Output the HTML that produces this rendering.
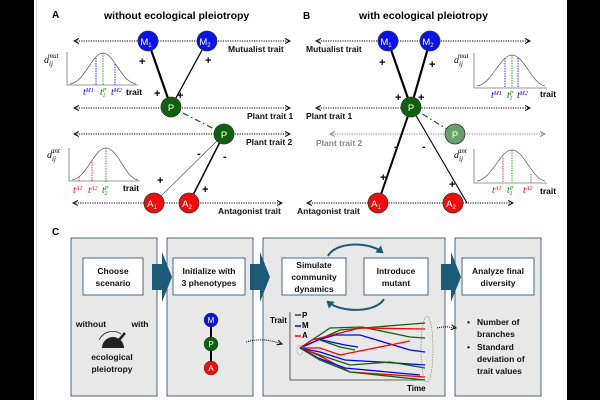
<!DOCTYPE html>
<html><head><style>
html,body{margin:0;padding:0;background:#000;}
svg{display:block;font-family:"Liberation Sans",sans-serif;}
</style></head><body>
<svg width="600" height="400" viewBox="0 0 600 400" xmlns="http://www.w3.org/2000/svg">
<defs>
<marker id="ar" markerWidth="6" markerHeight="6" refX="5" refY="3" orient="auto"><path d="M0,0.5 L5,3 L0,5.5" fill="none" stroke="#000" stroke-width="1"/></marker>
<marker id="al" markerWidth="6" markerHeight="6" refX="1" refY="3" orient="auto"><path d="M6,0.5 L1,3 L6,5.5" fill="none" stroke="#000" stroke-width="1"/></marker>
<marker id="arg" markerWidth="6" markerHeight="6" refX="5" refY="3" orient="auto"><path d="M0,0.5 L5,3 L0,5.5" fill="none" stroke="#888" stroke-width="1"/></marker>
<marker id="alg" markerWidth="6" markerHeight="6" refX="1" refY="3" orient="auto"><path d="M6,0.5 L1,3 L6,5.5" fill="none" stroke="#888" stroke-width="1"/></marker>
<marker id="cz" markerUnits="userSpaceOnUse" markerWidth="9" markerHeight="9" refX="5" refY="4.5" orient="auto"><path d="M0,0 L7,4.5 L0,9 Z" fill="#1d5a78"/></marker>
</defs>
<rect x="0" y="0" width="600" height="400" fill="#000"/>
<rect x="34" y="0" width="533" height="400" fill="#fff"/>
<line x1="36.5" y1="0" x2="36.5" y2="400" stroke="#ccc"/>
<g font-weight="bold" font-size="10">
<text x="52" y="18">A</text><text x="104" y="19" font-size="10.5">without ecological pleiotropy</text>
<text x="303" y="19">B</text><text x="359" y="19" font-size="10.5">with ecological pleiotropy</text>
<text x="52" y="235">C</text>
</g>
<g stroke="#000" stroke-width="1" stroke-dasharray="1.2,1.2" fill="none">
<line x1="74" y1="41" x2="290" y2="41" marker-start="url(#al)" marker-end="url(#ar)"/>
<line x1="74" y1="108" x2="290" y2="108" marker-start="url(#al)" marker-end="url(#ar)"/>
<line x1="74" y1="134" x2="290" y2="134" marker-start="url(#al)" marker-end="url(#ar)"/>
<line x1="73" y1="203" x2="282" y2="203" marker-start="url(#al)" marker-end="url(#ar)"/>
<line x1="316" y1="41" x2="530" y2="41" marker-start="url(#al)" marker-end="url(#ar)"/>
<line x1="316" y1="108" x2="530" y2="108" marker-start="url(#al)" marker-end="url(#ar)"/>
<line x1="307" y1="203" x2="513" y2="203" marker-start="url(#al)" marker-end="url(#ar)"/>
</g>
<line x1="330" y1="134" x2="545" y2="134" stroke="#888" stroke-dasharray="1.2,1.2" marker-start="url(#alg)" marker-end="url(#arg)"/>
<g font-size="8.5" font-weight="bold" fill="#111">
<text x="228" y="52">Mutualist trait</text>
<text x="247" y="119">Plant trait 1</text>
<text x="246" y="145">Plant trait 2</text>
<text x="218" y="214">Antagonist trait</text>
<text x="306" y="52">Mutualist trait</text>
<text x="306" y="119">Plant trait 1</text>
<text x="316" y="146" fill="#888">Plant trait 2</text>
<text x="297" y="214">Antagonist trait</text>
</g>
<line x1="148" y1="41" x2="171" y2="107" stroke="#000" stroke-width="2.2"/>
<line x1="207" y1="41" x2="171" y2="107" stroke="#000" stroke-width="1.3"/>
<line x1="171" y1="107" x2="224" y2="134" stroke="#1a6b1a" stroke-width="1.3" stroke-dasharray="6,3,1.5,3"/>
<line x1="224" y1="134" x2="154" y2="203" stroke="#555" stroke-width="0.7"/>
<line x1="224" y1="134" x2="189" y2="203" stroke="#000" stroke-width="1.5"/>
<line x1="388" y1="41" x2="411" y2="107" stroke="#000" stroke-width="2.2"/>
<line x1="430" y1="41" x2="411" y2="107" stroke="#000" stroke-width="2.2"/>
<line x1="411" y1="107" x2="455" y2="134" stroke="#1a6b1a" stroke-width="1.3" stroke-dasharray="6,3,1.5,3"/>
<line x1="411" y1="107" x2="378" y2="203" stroke="#000" stroke-width="2"/>
<line x1="411" y1="107" x2="467" y2="203" stroke="#000" stroke-width="1.1"/>
<g font-size="11" font-weight="bold">
<text x="139" y="65">+</text><text x="205" y="64">+</text><text x="154" y="97">+</text><text x="177" y="99">+</text>
<text x="197" y="157">-</text><text x="223" y="160">-</text><text x="157" y="184">+</text><text x="202" y="193">+</text>
<text x="379" y="66">+</text><text x="429" y="68">+</text><text x="395" y="101">+</text><text x="418" y="101">+</text>
<text x="394" y="150">-</text><text x="422" y="150">-</text><text x="380" y="181">+</text><text x="449" y="188">+</text>
</g>
<g stroke="#333" stroke-width="0.8" font-size="10" fill="#fff" text-anchor="middle">
<circle cx="148" cy="41" r="10" fill="#0a14e6"/><circle cx="207" cy="41" r="10" fill="#0a14e6"/>
<circle cx="171" cy="107" r="10" fill="#0e620e"/><circle cx="224" cy="134" r="10" fill="#0e620e"/>
<circle cx="154" cy="203" r="10" fill="#ee0c0c"/><circle cx="189" cy="203" r="10" fill="#ee0c0c"/>
<circle cx="388" cy="41" r="10" fill="#0a14e6"/><circle cx="430" cy="41" r="10" fill="#0a14e6"/>
<circle cx="411" cy="107" r="10" fill="#0e620e"/><circle cx="455" cy="134" r="10" fill="#6aa06a"/>
<circle cx="378" cy="203" r="10" fill="#ee0c0c"/><circle cx="453" cy="203" r="10" fill="#ee0c0c"/>
</g>
<g font-size="9.5" fill="#fff" text-anchor="middle">
<text x="146" y="45">M<tspan font-size="6" dy="2">1</tspan></text><text x="205" y="45">M<tspan font-size="6" dy="2">2</tspan></text>
<text x="171" y="111">P</text><text x="224" y="138">P</text>
<text x="152" y="207">A<tspan font-size="6" dy="2">1</tspan></text><text x="187" y="207">A<tspan font-size="6" dy="2">2</tspan></text>
<text x="386" y="45">M<tspan font-size="6" dy="2">1</tspan></text><text x="428" y="45">M<tspan font-size="6" dy="2">2</tspan></text>
<text x="411" y="111">P</text><text x="455" y="138">P</text>
<text x="376" y="207">A<tspan font-size="6" dy="2">1</tspan></text><text x="451" y="207">A<tspan font-size="6" dy="2">2</tspan></text>
</g>
<g fill="none" stroke-width="0.8">
<path d="M67,52 V85 H138" stroke="#777"/>
<path d="M70,84 C85,82 92,53 103,53 C114,53 121,82 136,84" stroke="#666"/>
<line x1="96" y1="58" x2="96" y2="85" stroke="#00f" stroke-dasharray="1.5,1"/>
<line x1="103" y1="53" x2="103" y2="85" stroke="#080" stroke-dasharray="1.5,1"/>
<line x1="115" y1="64" x2="115" y2="85" stroke="#00f" stroke-dasharray="1.5,1"/>
<path d="M69,148 V181 H140" stroke="#777"/>
<path d="M72,180 C87,178 94,148 106,148 C118,148 125,178 138,180" stroke="#666"/>
<line x1="79" y1="177" x2="79" y2="182" stroke="#f00" stroke-dasharray="1.5,1"/>
<line x1="92" y1="162" x2="92" y2="182" stroke="#f00" stroke-dasharray="1.5,1"/>
<line x1="106" y1="148" x2="106" y2="182" stroke="#080" stroke-dasharray="1.5,1"/>
<path d="M474,53 V88 H547" stroke="#777"/>
<path d="M477,86 C492,84 500,55 512,55 C524,55 532,84 545,86" stroke="#666"/>
<line x1="505" y1="58" x2="505" y2="88" stroke="#00f" stroke-dasharray="1.5,1"/>
<line x1="512" y1="55" x2="512" y2="88" stroke="#080" stroke-dasharray="1.5,1"/>
<line x1="518" y1="58" x2="518" y2="88" stroke="#00f" stroke-dasharray="1.5,1"/>
<path d="M474,149 V183 H547" stroke="#777"/>
<path d="M477,181 C492,179 500,150 512,150 C524,150 532,179 545,181" stroke="#666"/>
<line x1="503" y1="158" x2="503" y2="183" stroke="#f00" stroke-dasharray="1.5,1"/>
<line x1="512" y1="150" x2="512" y2="183" stroke="#080" stroke-dasharray="1.5,1"/>
<line x1="531" y1="174" x2="531" y2="183" stroke="#f00" stroke-dasharray="1.5,1"/>
</g>
<g font-family="Liberation Serif,serif" font-style="italic" font-size="10">
<text x="44" y="63">a<tspan font-size="7" dy="3">ij</tspan><tspan font-size="7" dy="-8" dx="-5">mut</tspan></text>
<text x="47" y="158">a<tspan font-size="7" dy="3">ij</tspan><tspan font-size="7" dy="-8" dx="-5">ant</tspan></text>
<text x="454" y="63">a<tspan font-size="7" dy="3">ij</tspan><tspan font-size="7" dy="-8" dx="-5">mut</tspan></text>
<text x="454" y="158">a<tspan font-size="7" dy="3">ij</tspan><tspan font-size="7" dy="-8" dx="-5">ant</tspan></text>
<text x="83" y="95" fill="#00f">t<tspan font-size="6" dy="-3">M1</tspan></text>
<text x="100" y="95" fill="#080">t<tspan font-size="6" dy="-3">P</tspan><tspan font-size="6" dy="5" dx="-4">1</tspan></text>
<text x="111" y="95" fill="#00f">t<tspan font-size="6" dy="-3">M2</tspan></text>
<text x="73" y="193" fill="#f00">t<tspan font-size="6" dy="-3">A1</tspan></text>
<text x="88" y="193" fill="#f00">t<tspan font-size="6" dy="-3">A2</tspan></text>
<text x="102" y="193" fill="#080">t<tspan font-size="6" dy="-3">P</tspan><tspan font-size="6" dy="5" dx="-4">2</tspan></text>
<text x="491" y="98" fill="#00f">t<tspan font-size="6" dy="-3">M1</tspan></text>
<text x="507" y="98" fill="#080">t<tspan font-size="6" dy="-3">P</tspan><tspan font-size="6" dy="5" dx="-4">1</tspan></text>
<text x="517" y="98" fill="#00f">t<tspan font-size="6" dy="-3">M2</tspan></text>
<text x="492" y="193" fill="#f00">t<tspan font-size="6" dy="-3">A1</tspan></text>
<text x="507" y="193" fill="#080">t<tspan font-size="6" dy="-3">P</tspan><tspan font-size="6" dy="5" dx="-4">1</tspan></text>
<text x="523" y="193" fill="#f00">t<tspan font-size="6" dy="-3">A2</tspan></text>
</g>
<g font-size="8.5" font-weight="bold"><text x="126" y="95">trait</text><text x="123" y="191">trait</text><text x="540" y="97">trait</text><text x="540" y="194">trait</text></g>
<g fill="#e8e8e8" stroke="#4a6a80" stroke-width="1">
<rect x="71" y="238" width="86" height="158"/>
<rect x="167" y="238" width="86" height="158"/>
<rect x="263" y="238" width="182" height="158"/>
<rect x="455" y="238" width="86" height="158"/>
</g>
<g fill="#1d5a78">
<path d="M152,264 H162 V252 L172,277 L162,302 V290 H152 Z"/>
<path d="M250,264 H260 V252 L270,277 L260,302 V290 H250 Z"/>
<path d="M441,264 H451 V252 L461,277 L451,302 V290 H441 Z"/>
</g>
<g fill="#fff" stroke="#4a6a80" stroke-width="1">
<rect x="83" y="258" width="60" height="37"/>
<rect x="173" y="258" width="72" height="37"/>
<rect x="282" y="258" width="64" height="37"/>
<rect x="364" y="258" width="64" height="37"/>
<rect x="462" y="258" width="72" height="37"/>
</g>
<g font-size="8.5" font-weight="bold" text-anchor="middle" fill="#111">
<text x="113" y="274">Choose</text><text x="113" y="286">scenario</text>
<text x="209" y="274">Initialize with</text><text x="209" y="286">3 phenotypes</text>
<text x="314" y="268">Simulate</text><text x="314" y="280">community</text><text x="314" y="292">dynamics</text>
<text x="396" y="274">Introduce</text><text x="396" y="286">mutant</text>
<text x="498" y="274">Analyze final</text><text x="498" y="286">diversity</text>
<text x="91" y="327">without</text><text x="140" y="327">with</text>
<text x="112" y="360">ecological</text><text x="112" y="372">pleiotropy</text>
</g>
<path d="M328,256 C335,242 368,241 382,252" fill="none" stroke="#1d5a78" stroke-width="2" marker-end="url(#cz)"/>
<path d="M384,299 C376,313 341,313 328,302" fill="none" stroke="#1d5a78" stroke-width="2" marker-end="url(#cz)"/>
<path d="M102,348 A11,11 0 0 1 124,348 Z" fill="#222"/>
<path d="M99,340 A15,15 0 0 1 121,334" fill="none" stroke="#222" stroke-width="0.8"/>
<line x1="113" y1="347" x2="125" y2="333" stroke="#222" stroke-width="2.5"/>
<line x1="211" y1="320" x2="211" y2="366" stroke="#000" stroke-width="2"/>
<g stroke="#333" stroke-width="0.5"><circle cx="211" cy="320" r="7" fill="#0a14e6"/><circle cx="211" cy="344" r="7" fill="#0e620e"/><circle cx="211" cy="368" r="7" fill="#ee0c0c"/></g>
<g fill="#fff" font-size="8" text-anchor="middle"><text x="211" y="323">M</text><text x="211" y="347">P</text><text x="211" y="371">A</text></g>
<path d="M246,342 C260,338 270,340 282,344" fill="none" stroke="#000" stroke-dasharray="1,1" marker-end="url(#ar)"/>
<path d="M290,312 V380 H425" fill="none" stroke="#333" stroke-width="0.8"/>
<g font-size="8" font-weight="bold"><text x="270" y="323">Trait</text><text x="407" y="391">Time</text><text x="302" y="318">P</text><text x="302" y="328">M</text><text x="302" y="338">A</text></g>
<line x1="295" y1="315" x2="301" y2="315" stroke="#0e620e" stroke-width="1.5"/>
<line x1="295" y1="326" x2="301" y2="326" stroke="#00f" stroke-width="1.5"/>
<line x1="295" y1="336" x2="301" y2="336" stroke="#f00" stroke-width="1.5"/>
<g fill="none" stroke-width="1.3">
<path d="M300,348 L318,340 L340,330 L400,325 L425,323" stroke="#0e620e"/>
<path d="M300,348 L318,340 L335,335 L360,335 L410,350 L425,352" stroke="#00f"/>
<path d="M300,348 L330,328 L362,327 L410,337 L425,338" stroke="#0e620e"/>
<path d="M300,348 L312,340 L360,328 L425,329" stroke="#f00"/>
<path d="M300,348 L320,348 L340,355 L390,345 L410,341" stroke="#f00"/>
<path d="M300,348 L320,352 L345,360 L380,362 L425,365" stroke="#00f"/>
<path d="M300,348 L320,355 L350,365 L390,362 L425,368" stroke="#0e620e"/>
<path d="M300,348 L318,355 L350,372 L425,377" stroke="#f00"/>
<path d="M300,348 L318,358 L345,368 L420,375" stroke="#00f"/>
<path d="M300,348 L320,360 L350,372 L425,380" stroke="#0e620e"/>
<path d="M322,340 L345,345 L358,347" stroke="#00f"/>
<path d="M320,340 L340,347 L355,350" stroke="#0e620e"/>
</g>
<ellipse cx="300" cy="350" rx="3" ry="5" fill="none" stroke="#777" stroke-width="0.6" stroke-dasharray="1,1"/>
<ellipse cx="427" cy="349" rx="6" ry="33" fill="none" stroke="#777" stroke-width="0.6" stroke-dasharray="1.5,1"/>
<path d="M437,328 C445,326 450,327 456,328" fill="none" stroke="#000" stroke-dasharray="1,1" marker-end="url(#ar)"/>
<g font-size="8.5" font-weight="bold" fill="#111">
<text x="467" y="325">•</text><text x="477" y="325">Number of</text><text x="477" y="337">branches</text>
<text x="467" y="350">•</text><text x="477" y="350">Standard</text><text x="477" y="362">deviation of</text><text x="477" y="374">trait values</text>
</g>
</svg>
</body></html>
